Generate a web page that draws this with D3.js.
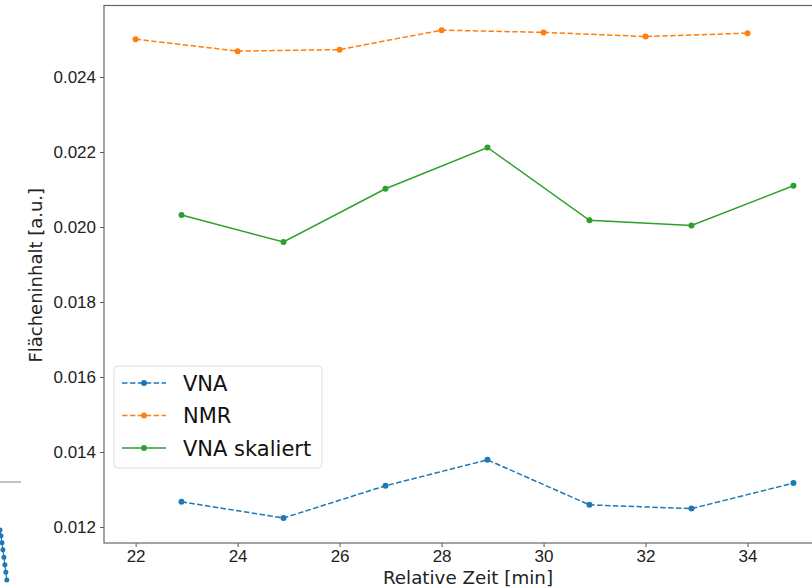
<!DOCTYPE html>
<html lang="de">
<head>
  <meta charset="UTF-8">
  <title>Flächeninhalt über Zeit</title>
  <script src="https://d3js.org/d3.v7.min.js"></script>
  <style>
    body { margin: 0; background: #fff; }
    svg { font-family: "DejaVu Sans", sans-serif; display: block; }
    .axis path, .axis line { stroke: #555; }
    .axis text { fill: #222; font-size: 17px; }
  </style>
</head>
<body>
<script>
  // Messzeiten [min]
  const zeitVNA = [22.9, 24.9, 26.9, 28.9, 30.9, 32.9, 34.9];
  const zeitNMR = [22, 24, 26, 28, 30, 32, 34];

  // Flächeninhalte [a.u.]
  const vna = [0.01267, 0.01224, 0.01310, 0.01379, 0.01259, 0.01249, 0.01317];
  const nmr = [0.02501, 0.02469, 0.02473, 0.02525, 0.02519, 0.02508, 0.02517];
  const vnaSkaliert = [0.02032, 0.01960, 0.02102, 0.02212, 0.02018, 0.02004, 0.02110];

  const xTicks = [22, 24, 26, 28, 30, 32, 34];
  const yTicks = [0.012, 0.014, 0.016, 0.018, 0.020, 0.022, 0.024];

  // Rest des Nachbarplots links unten (abgeschnitten)
  const nachbarX = [0.0, 0.15, 0.3, 0.45, 0.6, 0.75, 0.9, 1.05];
  const nachbarY = [0.0, 0.1, 0.22, 0.34, 0.47, 0.6, 0.73, 0.86];

  const width = 812, height = 588;
  const plotLeft = 104, plotRight = 832, plotTop = 5.5, plotBottom = 543;

  const svg = d3.select("body").append("svg")
    .attr("width", width)
    .attr("height", height);

  const x = d3.scaleLinear().domain([21.38, 35.46]).range([plotLeft, 822]);
  const y = d3.scaleLinear().domain([0.011573, 0.025907]).range([plotBottom, plotTop]);

  const serien = [
    { name: "VNA", xs: zeitVNA, ys: vna, color: "#1f77b4", dash: "5.5,2.4" },
    { name: "NMR", xs: zeitNMR, ys: nmr, color: "#ff7f0e", dash: "5.5,2.4" },
    { name: "VNA skaliert", xs: zeitVNA, ys: vnaSkaliert, color: "#2ca02c", dash: null }
  ];

  const line = d3.line().x(d => x(d[0])).y(d => y(d[1]));

  serien.forEach(s => {
    const pts = s.xs.map((t, i) => [t, s.ys[i]]);
    svg.append("path")
      .datum(pts)
      .attr("d", line)
      .attr("fill", "none")
      .attr("stroke", s.color)
      .attr("stroke-width", 1.5)
      .attr("stroke-dasharray", s.dash);
    svg.selectAll(null)
      .data(pts)
      .enter()
      .append("circle")
      .attr("cx", d => x(d[0]))
      .attr("cy", d => y(d[1]))
      .attr("r", 3)
      .attr("fill", s.color);
  });

  // Achsen
  svg.append("g")
    .attr("class", "axis")
    .attr("transform", `translate(0, ${plotBottom})`)
    .call(d3.axisBottom(x).tickValues(xTicks).tickSize(4).tickPadding(3).tickFormat(d3.format("d")))
    .call(g => g.select(".domain").remove());

  svg.append("g")
    .attr("class", "axis")
    .attr("transform", `translate(${plotLeft}, 0)`)
    .call(d3.axisLeft(y).tickValues(yTicks).tickSize(4).tickPadding(4).tickFormat(d3.format(".3f")))
    .call(g => g.select(".domain").remove());

  // Rahmen
  svg.append("rect")
    .attr("x", plotLeft)
    .attr("y", plotTop)
    .attr("width", plotRight - plotLeft)
    .attr("height", plotBottom - plotTop)
    .attr("fill", "none")
    .attr("stroke", "#666")
    .attr("stroke-width", 1.2);

  svg.append("text")
    .attr("x", (plotLeft + plotRight) / 2)
    .attr("y", 584)
    .attr("text-anchor", "middle")
    .attr("font-size", 18.3)
    .attr("fill", "#222")
    .text("Relative Zeit [min]");

  svg.append("text")
    .attr("transform", `translate(42, ${(plotTop + plotBottom) / 2 + 1}) rotate(-90)`)
    .attr("text-anchor", "middle")
    .attr("font-size", 18)
    .attr("fill", "#222")
    .text("Flächeninhalt [a.u.]");

  // Legende
  const legend = svg.append("g").attr("transform", "translate(114, 366)");
  legend.append("rect")
    .attr("width", 208)
    .attr("height", 102)
    .attr("rx", 4)
    .attr("fill", "#fff")
    .attr("fill-opacity", 0.8)
    .attr("stroke", "#ddd");

  serien.forEach((s, i) => {
    const ly = 17 + i * 32.5;
    legend.append("line")
      .attr("x1", 8).attr("x2", 52)
      .attr("y1", ly).attr("y2", ly)
      .attr("stroke", s.color)
      .attr("stroke-width", 1.5)
      .attr("stroke-dasharray", s.dash);
    legend.append("circle")
      .attr("cx", 30).attr("cy", ly).attr("r", 3)
      .attr("fill", s.color);
    legend.append("text")
      .attr("x", 69)
      .attr("y", ly + 7.5)
      .attr("font-size", 21)
      .attr("fill", "#111")
      .text(s.name);
  });

  // Fragment des Nachbarplots
  const nx = d3.scaleLinear().domain([0, 1]).range([0, 6.5]);
  const ny = d3.scaleLinear().domain([0, 1]).range([530, 588]);
  svg.append("line")
    .attr("x1", 0).attr("x2", 21)
    .attr("y1", 482).attr("y2", 482)
    .attr("stroke", "#999")
    .attr("stroke-width", 1.2);
  svg.append("path")
    .datum(nachbarX.map((v, i) => [v, nachbarY[i]]))
    .attr("d", d3.line().x(d => nx(d[0])).y(d => ny(d[1])))
    .attr("fill", "none")
    .attr("stroke", "#1f77b4")
    .attr("stroke-width", 1.2);
  svg.selectAll(null)
    .data(nachbarX.map((v, i) => [v, nachbarY[i]]))
    .enter()
    .append("circle")
    .attr("cx", d => nx(d[0]))
    .attr("cy", d => ny(d[1]))
    .attr("r", 2.5)
    .attr("fill", "#1f77b4");
</script>
</body>
</html>
